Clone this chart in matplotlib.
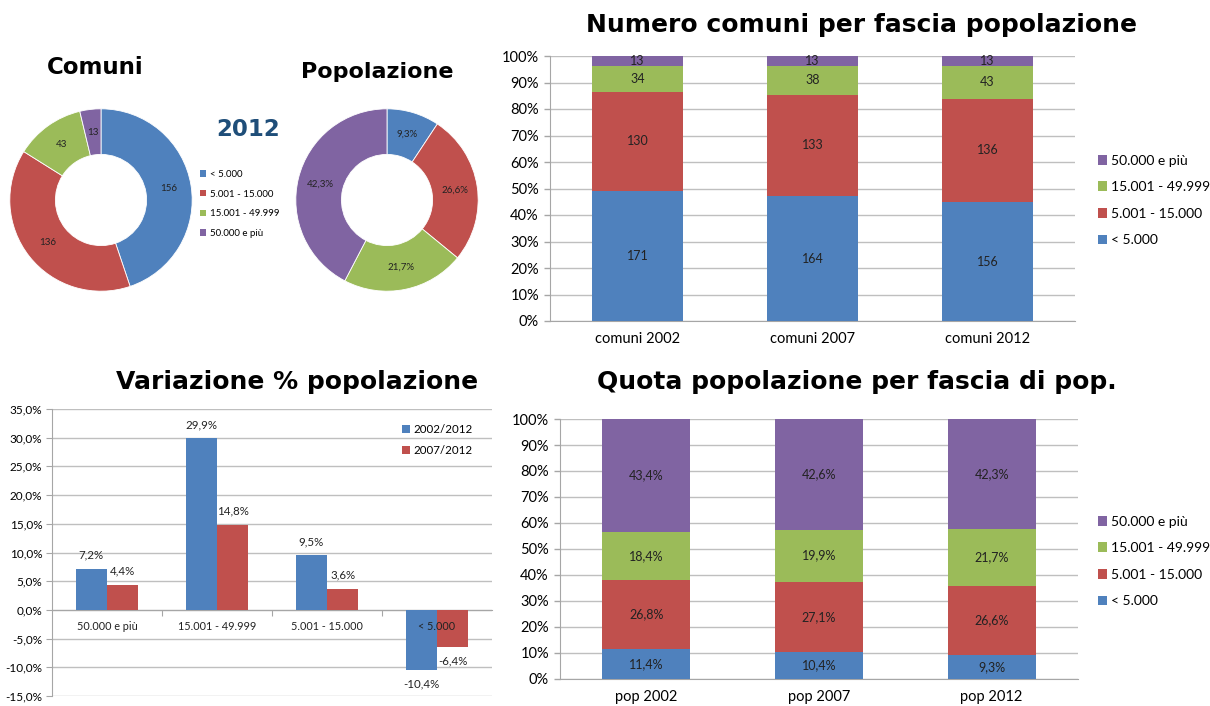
import matplotlib
matplotlib.use("Agg")
import matplotlib.pyplot as plt
from matplotlib.patches import Patch
import numpy as np

# ---- data -------------------------------------------------------------
fasce = ["< 5.000", "5.001 - 15.000", "15.001 - 49.999", "50.000 e più"]
colori = ["#4F81BD", "#C0504D", "#9BBB59", "#8064A2"]

comuni_2012 = [156, 136, 43, 13]
pop_2012 = [9.3, 26.6, 21.7, 42.3]
pop_2012_lbl = ["9,3%", "26,6%", "21,7%", "42,3%"]

anni_comuni = ["comuni 2002", "comuni 2007", "comuni 2012"]
comuni_counts = {          # per fascia, per anno
    "< 5.000": [171, 164, 156],
    "5.001 - 15.000": [130, 133, 136],
    "15.001 - 49.999": [34, 38, 43],
    "50.000 e più": [13, 13, 13],
}

anni_pop = ["pop 2002", "pop 2007", "pop 2012"]
quota_pop = {
    "< 5.000": [11.4, 10.4, 9.3],
    "5.001 - 15.000": [26.8, 27.1, 26.6],
    "15.001 - 49.999": [18.4, 19.9, 21.7],
    "50.000 e più": [43.4, 42.6, 42.3],
}

var_cat = ["50.000 e più", "15.001 - 49.999", "5.001 - 15.000", "< 5.000"]
var_02_12 = [7.2, 29.9, 9.5, -10.4]
var_07_12 = [4.4, 14.8, 3.6, -6.4]

# ---- layout helpers ---------------------------------------------------
W, H = 1210, 706
BODY = ["Lato", "DejaVu Sans"]
TITLE = ["DejaVu Sans"]
GRID = "#BFBFBF"
AXC = "#A6A6A6"


def rect(l, t, r, b):
    return [l / W, 1 - b / H, (r - l) / W, (b - t) / H]


def fmt_it(v, dec=1):
    return f"{v:.{dec}f}".replace(".", ",") + "%"


fig = plt.figure(figsize=(W / 100, H / 100), dpi=100)
fig.patch.set_facecolor("white")


# ---- donuts -----------------------------------------------------------
def donut(box, values, labels, title, tx, ty, tsize):
    ax = fig.add_axes(rect(*box))
    wedges, texts = ax.pie(values, colors=colori, startangle=90, counterclock=False,
                           radius=1, labels=labels, labeldistance=0.75,
                           wedgeprops=dict(width=0.5, edgecolor="white", linewidth=0.6),
                           textprops=dict(fontsize=7, family=BODY, color="#222222"))
    for t in texts:
        t.set_ha("center")
        t.set_va("center")
    ax.set_xlim(-1.02, 1.02)
    ax.set_ylim(-1.02, 1.02)
    ax.set_aspect("equal")
    fig.text(tx / W, 1 - ty / H, title, ha="center", va="center", fontsize=tsize,
             fontweight="bold", family=TITLE)


donut((8, 107, 194, 293), comuni_2012, [str(v) for v in comuni_2012], "Comuni", 95, 68, 16.5)
donut((294, 107, 480, 293), pop_2012, pop_2012_lbl, "Popolazione", 377, 72, 16)

fig.text(248 / W, 1 - 130 / H, "2012", ha="center", va="center", fontsize=16.5,
         fontweight="bold", color="#1F4E79", family=TITLE)

pie_handles = [Patch(facecolor=c, edgecolor="none") for c in colori]
fig.legend(pie_handles, fasce, loc="upper left", bbox_to_anchor=(196 / W, 1 - 166 / H),
           frameon=False, prop=dict(family=BODY, size=7), handlelength=0.6,
           handleheight=0.6, handletextpad=0.4, labelspacing=1.1, borderaxespad=0)


# ---- stacked 100% bars -----------------------------------------------
def stacked(box, cats, data, fmt, title, tx, ty, width, leg_top):
    ax = fig.add_axes(rect(*box))
    x = np.arange(len(cats))
    tot = np.sum([data[f] for f in fasce], axis=0)
    bottom = np.zeros(len(cats))
    for f, c in zip(fasce, colori):
        v = np.array(data[f], dtype=float)
        share = v / tot * 100
        ax.bar(x, share, width, bottom=bottom, color=c, label=f, zorder=3)
        for xi, b, s, raw in zip(x, bottom, share, v):
            ax.text(xi, b + s / 2, fmt(raw), ha="center", va="center", fontsize=9,
                    family=BODY, color="#222222", zorder=4)
        bottom += share
    ax.set_xlim(-0.5, len(cats) - 0.5)
    ax.set_ylim(0, 100)
    ax.set_yticks(np.arange(0, 101, 10))
    ax.set_yticklabels([f"{v}%" for v in range(0, 101, 10)])
    ax.set_xticks(x)
    ax.set_xticklabels(cats)
    ax.tick_params(axis="x", length=0, pad=8)
    ax.tick_params(axis="y", length=4, color=AXC, width=1, pad=4)
    for lab in ax.get_xticklabels() + ax.get_yticklabels():
        lab.set_family(BODY)
        lab.set_fontsize(10.5)
    ax.yaxis.grid(True, color=GRID, linewidth=1, zorder=0)
    for s in ("top", "right"):
        ax.spines[s].set_visible(False)
    ax.spines["left"].set_color(AXC)
    ax.spines["bottom"].set_color(AXC)
    fig.text(tx / W, 1 - ty / H, title, ha="center", va="center", fontsize=18,
             fontweight="bold", family=TITLE)
    h, l = ax.get_legend_handles_labels()
    fig.legend(h[::-1], l[::-1], loc="upper left", bbox_to_anchor=(1092 / W, 1 - leg_top / H),
               frameon=False, prop=dict(family=BODY, size=10), handlelength=0.7,
               handleheight=0.7, handletextpad=0.3, labelspacing=1.05, borderaxespad=0)
    return ax


stacked((550, 56, 1075, 321), anni_comuni, comuni_counts, lambda v: f"{int(v)}",
        "Numero comuni per fascia popolazione", 862, 25, 0.52, 149)
stacked((560, 419, 1078, 679), anni_pop, quota_pop, lambda v: fmt_it(v),
        "Quota popolazione per fascia di pop.", 857, 382, 0.51, 510)


# ---- variation bars ---------------------------------------------------
ax = fig.add_axes(rect(52, 409, 492, 696))
x = np.arange(len(var_cat))
bw = 0.285
b1 = ax.bar(x - bw / 2, var_02_12, bw, color=colori[0], label="2002/2012", zorder=3)
b2 = ax.bar(x + bw / 2, var_07_12, bw, color=colori[1], label="2007/2012", zorder=3)
for bars, vals in ((b1, var_02_12), (b2, var_07_12)):
    for r, v in zip(bars, vals):
        off = 6 if v >= 0 else -6
        ax.annotate(fmt_it(v), (r.get_x() + r.get_width() / 2, v), xytext=(0, off),
                    textcoords="offset points", ha="center",
                    va="bottom" if v >= 0 else "top", fontsize=8.3, family=BODY,
                    color="#222222", zorder=5)
for xi, c in zip(x, var_cat):
    ax.annotate(c, (xi, 0), xytext=(0, -8), textcoords="offset points", ha="center",
                va="top", fontsize=7.8, family=BODY, color="#222222", zorder=5)
ax.set_xlim(-0.5, len(var_cat) - 0.5)
ax.set_ylim(-15, 35)
yt = np.arange(-15, 36, 5)
ax.set_yticks(yt)
ax.set_yticklabels([fmt_it(v) for v in yt])
ax.set_xticks(x[:-1] + 0.5)
ax.set_xticklabels([])
ax.spines["bottom"].set_position(("data", 0))
ax.spines["bottom"].set_color(AXC)
ax.spines["left"].set_color(AXC)
for s in ("top", "right"):
    ax.spines[s].set_visible(False)
ax.tick_params(axis="x", length=4, color=AXC, direction="out")
ax.tick_params(axis="y", length=4, color=AXC, pad=3)
for lab in ax.get_yticklabels():
    lab.set_family(BODY)
    lab.set_fontsize(8.5)
ax.yaxis.grid(True, color=GRID, linewidth=1, zorder=0)
ax.legend(loc="upper right", bbox_to_anchor=(0.966, 0.965), frameon=False,
          prop=dict(family=BODY, size=8.3), handlelength=0.7, handleheight=0.7,
          handletextpad=0.3, labelspacing=0.9, borderaxespad=0)
fig.text(297 / W, 1 - 382 / H, "Variazione % popolazione", ha="center", va="center",
         fontsize=18, fontweight="bold", family=TITLE)

fig.savefig("out.png", dpi=100)
